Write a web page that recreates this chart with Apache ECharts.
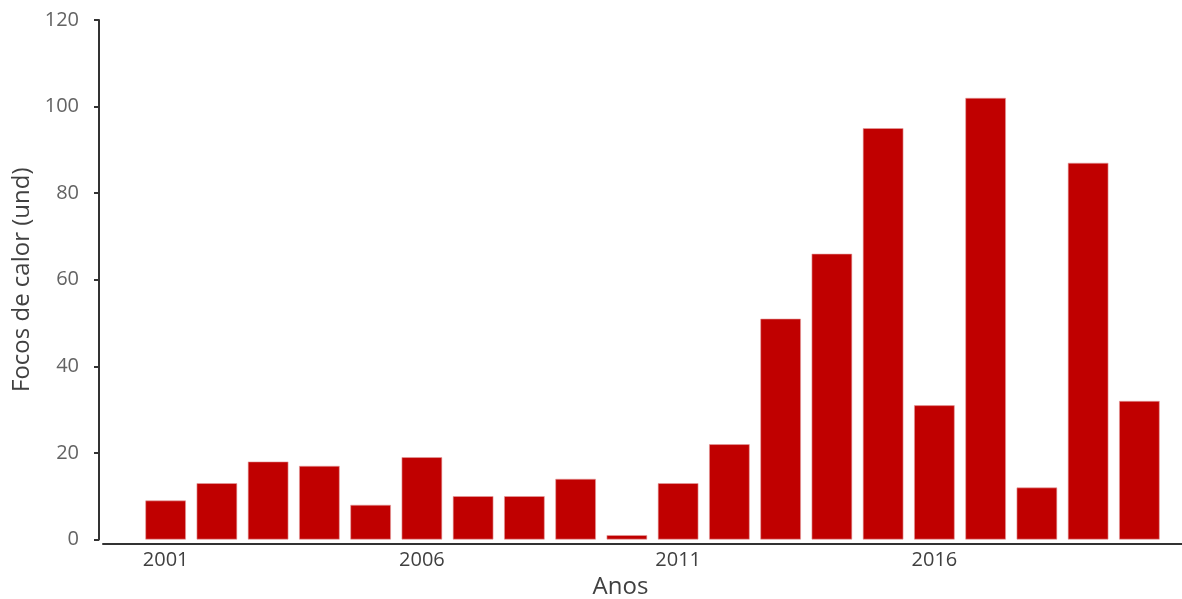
<!DOCTYPE html>
<html>
<head>
<meta charset="utf-8">
<script src="https://cdn.jsdelivr.net/npm/echarts@6/dist/echarts.min.js"></script>
<style>
  html, body { margin: 0; padding: 0; background: #fff; }
  #chart { width: 1182px; height: 599px; }
</style>
</head>
<body>
<div id="chart"></div>
<script>
// Annual heat spots (focos de calor), 2001-2020
const years = ['2001','2002','2003','2004','2005','2006','2007','2008','2009','2010',
               '2011','2012','2013','2014','2015','2016','2017','2018','2019','2020'];
const focos = [9, 13, 18, 17, 8, 19, 10, 10, 14, 1, 13, 22, 51, 66, 95, 31, 102, 12, 87, 32];
const yTicks = { min: 0, max: 120, interval: 20 };

const FONT = '"Open Sans", "Liberation Sans", sans-serif';

const chart = echarts.init(document.getElementById('chart'), null, { renderer: 'canvas' });

chart.setOption({
  animation: false,
  backgroundColor: '#ffffff',
  textStyle: { fontFamily: FONT },
  grid: [
    // plot area holding the bars
    { left: 140, right: 17, top: 20, bottom: 59.5, outerBoundsMode: 'none', containLabel: false },
    // wider strip that carries the horizontal baseline
    { left: 103, right: -5, top: 20, bottom: 55, outerBoundsMode: 'none', containLabel: false }
  ],
  xAxis: [
    {
      type: 'category',
      gridIndex: 0,
      data: years,
      axisLine: { show: false },
      axisTick: { show: false },
      axisLabel: {
        interval: 4,
        margin: 11,
        color: '#404040',
        fontSize: 20,
        fontFamily: FONT
      },
      name: 'Anos',
      nameLocation: 'middle',
      nameGap: 36,
      nameTextStyle: {
        color: '#404040',
        fontSize: 24,
        fontFamily: FONT,
        padding: [0, 64, 0, 0]
      }
    },
    {
      type: 'category',
      gridIndex: 1,
      data: years,
      axisLine: { show: true, lineStyle: { color: '#333333', width: 2 } },
      axisTick: { show: false },
      axisLabel: { show: false }
    }
  ],
  yAxis: [
    {
      type: 'value',
      gridIndex: 0,
      min: yTicks.min,
      max: yTicks.max,
      interval: yTicks.interval,
      offset: 41,
      splitLine: { show: false },
      axisLine: { show: true, lineStyle: { color: '#333333', width: 2 } },
      axisTick: { show: true, length: 5, lineStyle: { color: '#333333', width: 2 } },
      axisLabel: {
        margin: 20,
        color: '#636363',
        fontSize: 20,
        fontFamily: FONT
      },
      name: 'Focos de calor (und)',
      nameLocation: 'middle',
      nameGap: 64,
      nameTextStyle: {
        color: '#404040',
        fontSize: 24,
        fontFamily: FONT
      }
    },
    {
      type: 'value',
      gridIndex: 1,
      show: false,
      min: yTicks.min,
      max: yTicks.max
    }
  ],
  series: [
    {
      type: 'bar',
      xAxisIndex: 0,
      yAxisIndex: 0,
      data: focos,
      barCategoryGap: '21%',
      itemStyle: {
        color: '#c00000',
        borderColor: '#e4a0a0',
        borderWidth: 0.6
      }
    }
  ]
});
</script>
</body>
</html>
